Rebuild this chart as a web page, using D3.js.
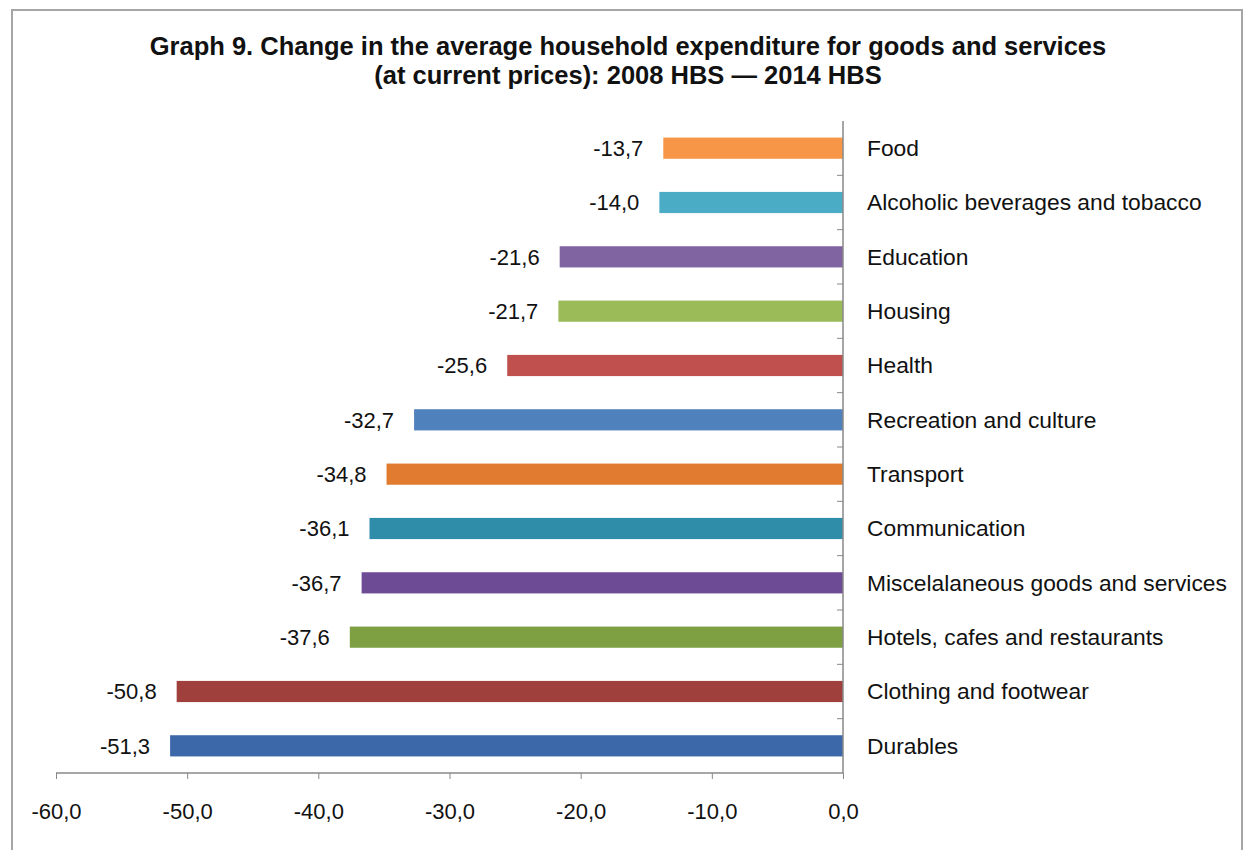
<!DOCTYPE html>
<head>
    <title>Graph 9</title>
    <script src="https://d3js.org/d3.v7.min.js"></script>
</head>
<style>
body {
  margin: 0;
  background: #fff;
  font-family: "Liberation Sans", Arial, Helvetica, sans-serif;
}
</style>
<body>
    <svg></svg>
</body>

<script>

    // Data
    var categories = ["Food", "Alcoholic beverages and tobacco", "Education", "Housing", "Health",
        "Recreation and culture", "Transport", "Communication", "Miscelalaneous goods and services",
        "Hotels, cafes and restaurants", "Clothing and footwear", "Durables"];
    var values = [-13.7, -14.0, -21.6, -21.7, -25.6, -32.7, -34.8, -36.1, -36.7, -37.6, -50.8, -51.3];
    var colors = ["#F79646", "#4BACC6", "#8064A2", "#9BBB59", "#C0504D", "#4F81BD",
        "#E07B30", "#2F8DAA", "#6E4C95", "#7FA042", "#A0403C", "#3C67A8"];
    var xTicks = [-60, -50, -40, -30, -20, -10, 0];

    var width = 1244;
    var height = 850;
    var margin = {left: 56, right: 401, top: 121, bottom: 77};
    var fontSize = '22px';

    var svg = d3.select('svg')
        .attr('width', width)
        .attr('height', height);

    // frame
    svg.append('rect')
        .attr('x', 12).attr('y', 10)
        .attr('width', 1230).attr('height', 860)
        .attr('fill', 'none')
        .attr('stroke', '#a6a6a6')
        .attr('stroke-width', 2);

    // title
    var title = svg.append('text')
        .attr('text-anchor', 'middle')
        .style('font-weight', 'bold')
        .style('font-size', '25.5px')
        .attr('fill', '#111');
    title.append('tspan').attr('x', 628).attr('y', 55).text('Graph 9. Change in the average household expenditure for goods and services');
    title.append('tspan').attr('x', 628).attr('y', 84).text('(at current prices): 2008 HBS \u2014 2014 HBS');

    var x = d3.scaleLinear()
        .domain([-60, 0])
        .range([margin.left, width - margin.right]);

    var y = d3.scaleBand()
        .domain(categories)
        .range([margin.top, height - margin.bottom])
        .paddingInner(0.61)
        .paddingOuter(0.305);

    // bars
    svg.selectAll('.bar')
        .data(values)
        .enter().append('rect')
        .attr('class', 'bar')
        .attr('x', function (d) { return x(d); })
        .attr('y', function (d, i) { return y(categories[i]); })
        .attr('width', function (d) { return x(0) - x(d); })
        .attr('height', y.bandwidth())
        .attr('fill', function (d, i) { return colors[i]; });

    // value labels
    svg.selectAll('.val')
        .data(values)
        .enter().append('text')
        .attr('class', 'val')
        .attr('x', function (d) { return x(d) - 20; })
        .attr('y', function (d, i) { return y(categories[i]) + y.bandwidth() / 2; })
        .attr('dy', '0.35em')
        .attr('text-anchor', 'end')
        .style('font-size', fontSize)
        .attr('fill', '#111')
        .text(function (d) { return d.toFixed(1).replace('.', ','); });

    // category labels
    svg.selectAll('.cat')
        .data(categories)
        .enter().append('text')
        .attr('class', 'cat')
        .attr('x', x(0) + 24)
        .attr('y', function (d) { return y(d) + y.bandwidth() / 2; })
        .attr('dy', '0.35em')
        .style('font-size', '22.8px')
        .attr('fill', '#111')
        .text(function (d) { return d; });

    // x axis
    var xAxis = svg.append('g')
        .attr('transform', 'translate(0,' + (height - margin.bottom) + ')')
        .call(d3.axisBottom(x)
            .tickValues(xTicks)
            .tickSize(6)
            .tickPadding(24)
            .tickFormat(function (d) { return d.toFixed(1).replace('.', ','); }));
    xAxis.select('.domain').attr('stroke', '#888').attr('stroke-width', 1.5).attr('d', 'M' + x(-60) + ',0H' + x(0));
    xAxis.selectAll('.tick line').attr('stroke', '#888');
    xAxis.selectAll('.tick text')
        .style('font-size', fontSize)
        .style('font-family', '"Liberation Sans", Arial, sans-serif')
        .attr('fill', '#111');

    // y axis line with ticks between bands
    var step = y.step();
    var bounds = categories.map(function (d) { return y(d) - step * y.paddingInner() / 2; }).slice(1);
    svg.append('line')
        .attr('x1', x(0)).attr('x2', x(0))
        .attr('y1', margin.top).attr('y2', height - margin.bottom)
        .attr('stroke', '#888').attr('stroke-width', 1.5);
    svg.selectAll('.ytick')
        .data(bounds)
        .enter().append('line')
        .attr('class', 'ytick')
        .attr('x1', x(0) - 6).attr('x2', x(0))
        .attr('y1', function (d) { return d; }).attr('y2', function (d) { return d; })
        .attr('stroke', '#888');

</script>
